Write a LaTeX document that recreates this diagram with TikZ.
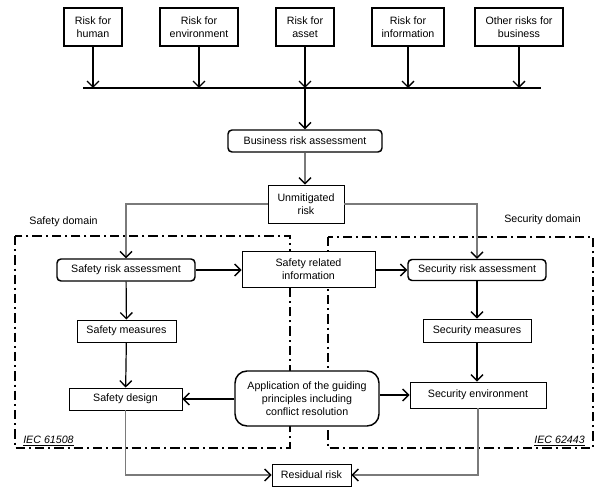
\documentclass[tikz,border=0pt]{standalone}
\usepackage{fontspec}
\setmainfont{Liberation Sans}
\usepackage{tikz}
\usetikzlibrary{arrows.meta, positioning, calc}
\definecolor{linkgray}{HTML}{7A7A7A}

\begin{document}
\begin{tikzpicture}[x=0.75pt, y=-0.75pt,
  every node/.style={font=\fontsize{8}{9.6}\selectfont, align=center},
  boxsize/.style 2 args={minimum width=#1*0.75pt, minimum height=#2*0.75pt},
  riskbox/.style={draw, fill=white, line width=0.9pt, inner sep=1pt},
  plainbox/.style={draw, fill=white, line width=0.7pt, inner sep=1pt},
  roundbox/.style={draw, fill=white, line width=1.1pt, rounded corners=3pt, inner sep=1pt},
  flow/.style={line width=0.9pt, -{Straight Barb[length=4.5pt,width=9pt,line width=1pt]}},
  grayflow/.style={draw=linkgray, line width=1.3pt, -{Straight Barb[length=4.5pt,width=9pt,color=black,line width=1pt]}},
  domainframe/.style={line width=1.3pt, dash pattern=on 7pt off 3pt on 1.5pt off 3pt}]
  \useasboundingbox (0,0) rectangle (596,491);

  % Domain frames
  \draw[domainframe] (15,236) rectangle (290,448);
  \draw[domainframe] (328,237) rectangle (593,448);
  \node (safetylbl) at (63.5,222) {Safety domain};
  \node (securitylbl) at (542.5,220) {Security domain};
  \node[anchor=west, inner sep=0pt] (iecleft) at (23,441) {\underline{\textit{IEC 61508}}};
  \node[anchor=east, inner sep=0pt] (iecright) at (585,441) {\underline{\textit{IEC 62443}}};

  % Risk sources
  \node[riskbox, boxsize={58}{38}] (human) at (93,27) {Risk for\\human};
  \node[riskbox, boxsize={78}{38}] (env) at (199,27) {Risk for\\environment};
  \node[riskbox, boxsize={58}{38}] (asset) at (305,27) {Risk for\\asset};
  \node[riskbox, boxsize={72}{38}] (info) at (408,27) {Risk for\\information};
  \node[riskbox, boxsize={88}{38}] (other) at (519,27) {Other risks for\\business};

  % Collecting bus
  \coordinate (busL) at (83,88);
  \coordinate (busR) at (541,88);
  \draw[line width=1pt] (busL) -- (busR);
  \foreach \src in {human,env,asset,info,other}
    \draw[flow] (\src.south) -- (\src.south |- busL);

  % Business level
  \node[roundbox, boxsize={154}{22}] (business) at (305,141) {Business risk assessment};
  \node[plainbox, boxsize={76}{38}] (unmit) at (306,204) {Unmitigated\\risk};
  \draw[flow] (asset.south |- busL) -- (business.north);
  \draw[grayflow] (business.south) -- (business.south |- unmit.north);

  % Safety side
  \node[roundbox, boxsize={138}{22}] (safetyra) at (126,270) {Safety risk assessment};
  \node[plainbox, boxsize={99}{22}] (safetymeas) at (126.5,331) {Safety measures};
  \node[plainbox, boxsize={113}{22}] (safetydes) at (125.5,399) {Safety design};

  % Security side
  \node[roundbox, boxsize={138}{21}] (securra) at (477,270) {Security risk assessment};
  \node[plainbox, boxsize={108}{23}] (securmeas) at (477,330.5) {Security measures};
  \node[plainbox, boxsize={136}{26}] (securenv) at (478,395) {Security environment};

  % Shared middle
  \node[plainbox, boxsize={133}{36}] (relinfo) at (308.5,269) {Safety related\\information};
  \node[roundbox, rounded corners=9pt, boxsize={144}{55}] (guiding) at (307,398.5) {Application of the guiding\\principles including\\conflict resolution};
  \node[plainbox, boxsize={79}{22}] (residual) at (311.5,475) {Residual risk};

  % Connectors
  \draw[grayflow] (unmit.west) -| (safetyra.north);
  \draw[grayflow] (unmit.east) -| (securra.north);
  \draw[flow] (safetyra.east) -- (safetyra.east -| relinfo.west);
  \draw[flow] (relinfo.east |- securra) -- (securra.west);
  \draw[flow] (safetyra) -- (safetymeas);
  \draw[flow] (safetymeas) -- (safetydes);
  \draw[flow] (securra) -- (securmeas);
  \draw[flow] (securmeas.south) -- (securmeas.south |- securenv.north);
  \draw[flow] (guiding.west |- safetydes) -- (safetydes.east);
  \draw[flow] (guiding.east |- securenv) -- (securenv.west);
  \draw[grayflow] (safetydes.south) |- (residual.west);
  \draw[grayflow] (securenv.south) |- (residual.east);
\end{tikzpicture}
\end{document}
